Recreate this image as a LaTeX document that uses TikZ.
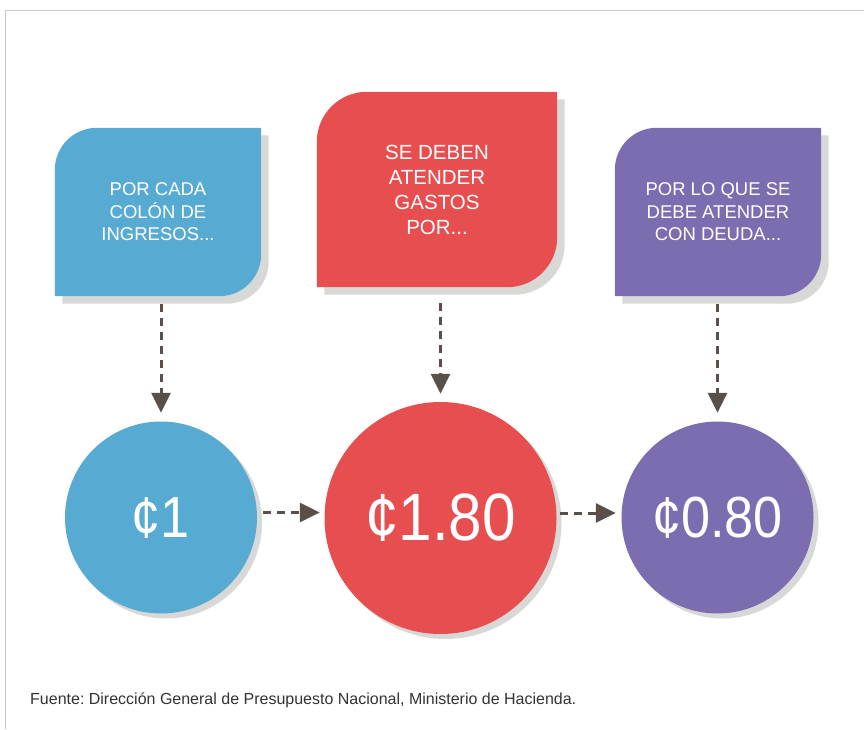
\documentclass[tikz,border=0pt]{standalone}
\usepackage{fontspec}
\setmainfont{Liberation Sans}
\newfontfamily\numfont[FakeStretch=0.9]{Liberation Sans}
\usetikzlibrary{arrows.meta,backgrounds,shadows}
\frenchspacing

\definecolor{cblue}{HTML}{57ABD2}
\definecolor{cred}{HTML}{E64E4F}
\definecolor{cpurple}{HTML}{7B6DB0}
\definecolor{cshadow}{HTML}{D8D8D6}
\definecolor{carrow}{HTML}{5A504B}
\definecolor{cframe}{HTML}{C8C8C8}

\newcommand\tagshape[4]{%
  \fill[#2] ([shift={#4}]#1.south west) -- ([shift={#4},yshift=-#3]#1.north west)
    arc[start angle=180,end angle=90,radius=#3] -- ([shift={#4}]#1.north east)
    -- ([shift={#4},yshift=#3]#1.south east)
    arc[start angle=0,end angle=-90,radius=#3] -- cycle;}

\begin{document}
\begin{tikzpicture}[x=1pt,y=1pt,
    tag/.style={rectangle, inner sep=0pt, align=center, text=white,
      minimum width=206pt, minimum height=168pt,
      font=\fontsize{18.5}{22.5}\selectfont},
    coin/.style={circle, inner sep=0pt, text=white, minimum size=192pt,
      font=\numfont\fontsize{58}{60}\selectfont,
      drop shadow={shadow xshift=5pt, shadow yshift=-5pt, fill=cshadow, opacity=1}},
    flow/.style={carrow, line width=3pt, dash pattern=on 8pt off 6pt,
      -{Triangle[length=20pt, width=19pt]}}]
  \useasboundingbox (0,0) rectangle (864,729);
  \draw[cframe, line width=1pt] (5,0) -- (5,718) -- (864,718);

  \node(por)[tag] at (158,517) {POR CADA\\COLÓN DE\\INGRESOS...};
  \node(gastos)[tag, minimum width=240pt, minimum height=195pt,
    font=\fontsize{20.5}{25}\selectfont] at (437,539.5) {SE DEBEN\\ATENDER\\GASTOS\\POR...};
  \node(deuda)[tag] at (718,517) {POR LO QUE SE\\DEBE ATENDER\\CON DEUDA...};

  \begin{scope}[on background layer]
    \tagshape{por}{cshadow}{42pt}{(7.5,-7.5)}
    \tagshape{por}{cblue}{42pt}{(0,0)}
    \tagshape{gastos}{cshadow}{50pt}{(7.5,-7.5)}
    \tagshape{gastos}{cred}{50pt}{(0,0)}
    \tagshape{deuda}{cshadow}{42pt}{(7.5,-7.5)}
    \tagshape{deuda}{cpurple}{42pt}{(0,0)}
  \end{scope}

  \node(uno)[coin, fill=cblue] at (161,211.5) {¢1};
  \node(total)[coin, fill=cred, minimum size=232pt,
    font=\numfont\fontsize{67}{70}\selectfont] at (440.5,211) {¢1.80};
  \node(resto)[coin, fill=cpurple] at (717.5,211.5) {¢0.80};

  \draw[flow, shorten <=8pt, shorten >=8.5pt] (uno.north |- por.south) -- (uno.north);
  \draw[flow, shorten <=16pt, shorten >=8pt] (total.north |- gastos.south) -- (total.north);
  \draw[flow, shorten <=8pt, shorten >=8.5pt] (resto.north |- deuda.south) -- (resto.north);
  \draw[flow, shorten <=6pt, shorten >=4.5pt] ([yshift=5pt]uno.east) -- ([yshift=5pt]uno.east -| total.west);
  \draw[flow, shorten <=3.5pt, shorten >=5.5pt] ([yshift=5pt]total.east) -- ([yshift=5pt]total.east -| resto.west);

  \node(fuente)[anchor=west, inner sep=0pt, text=black!80, font=\fontsize{16}{18}\selectfont] at (30,29)
    {Fuente: Dirección General de Presupuesto Nacional, Ministerio de Hacienda.};
\end{tikzpicture}
\end{document}
